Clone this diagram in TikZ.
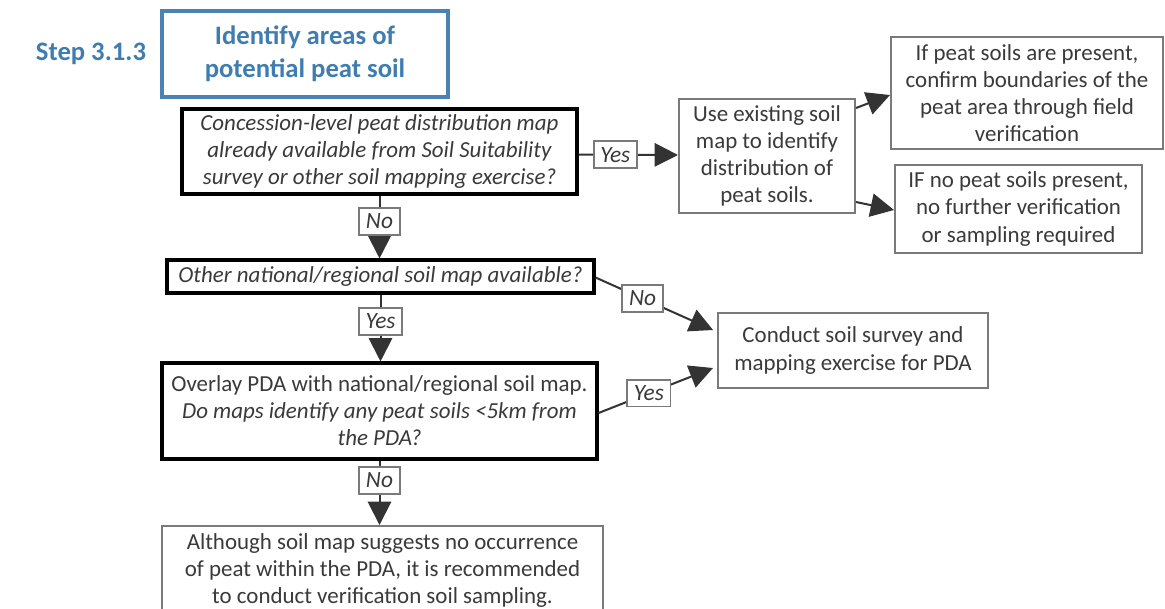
\documentclass[tikz,border=0pt]{standalone}
\usepackage{fontspec}
\setmainfont{Carlito}
\usetikzlibrary{arrows.meta,calc}
\definecolor{txt}{HTML}{3A3A3A}
\definecolor{stepblue}{HTML}{3F7DB0}
\definecolor{boxblue}{HTML}{4A82B4}
\definecolor{bordergray}{HTML}{7A7A7A}
\definecolor{linegray}{HTML}{333333}
\begin{document}
\begin{tikzpicture}[x=0.75pt,y=-0.75pt,
  every node/.style={text=txt, font=\fontsize{17.2}{20.3}\selectfont, align=center, inner sep=0pt},
  blackbox/.style={draw=black, line width=2.3pt, fill=white},
  graybox/.style={draw=bordergray, line width=1.5pt, fill=white},
  lab/.style={draw=bordergray, line width=1.4pt, fill=white, font=\fontsize{17.5}{20}\selectfont\itshape, inner xsep=5pt, minimum height=20pt},
  conn/.style={draw=linegray, line width=1.5pt, -{Triangle[length=17.5pt,width=17.5pt]}}
]
\useasboundingbox (0,0) rectangle (1165,608);

% title
\node (step) at (91,54) {\fontsize{20}{24}\selectfont\bfseries\color{stepblue}Step 3.1.3};
\node[draw=boxblue, line width=2.4pt, fill=white, minimum width=286*0.75pt, minimum height=86*0.75pt,
      font=\fontsize{20}{25}\selectfont\bfseries, text=stepblue] (title) at (305,54)
      {Identify areas of\\potential peat soil};

% main column
\node[blackbox, minimum width=395*0.75pt, minimum height=85*0.75pt, font=\fontsize{17.2}{20.3}\selectfont\itshape] (b1) at (379.5,151.5)
  {Concession-level peat distribution map\\already available from Soil Suitability\\survey or other soil mapping exercise?};
\node[blackbox, minimum width=427*0.75pt, minimum height=33*0.75pt, font=\fontsize{17.2}{20.3}\selectfont\itshape] (b2) at (380.5,276.5)
  {Other national/regional soil map available?};
\node[blackbox, minimum width=435*0.75pt, minimum height=96*0.75pt] (b3) at (379.5,411)
  {Overlay PDA with national/regional soil map.\\\textit{Do maps identify any peat soils <5km from}\\\textit{the PDA?}};
\node[graybox, minimum width=441*0.75pt, minimum height=89*0.75pt] (fin) at (382.5,570.5)
  {Although soil map suggests no occurrence\\of peat within the PDA, it is recommended\\to conduct verification soil sampling.};

% right side
\node[graybox, minimum width=176*0.75pt, minimum height=114*0.75pt] (use) at (767,156)
  {Use existing soil\\map to identify\\distribution of\\peat soils.};
\node[graybox, minimum width=272*0.75pt, minimum height=112*0.75pt] (tr) at (1027,93)
  {If peat soils are present,\\confirm boundaries of the\\peat area through field\\verification};
\node[graybox, minimum width=247*0.75pt, minimum height=88*0.75pt] (br) at (1018.5,209)
  {IF no peat soils present,\\no further verification\\or sampling required};
\node[graybox, minimum width=270*0.75pt, minimum height=75*0.75pt] (con) at (853,350.5)
  {Conduct soil survey and\\mapping exercise for PDA};

% connectors
\draw[conn] ($(b1.east)+(0,3)$) -- node[lab, pos=0.37] (l1) {Yes} ($(use.west)+(0,-1)$);
\draw[conn] ($(use.north east)+(0,10)$) -- ($(tr.west)+(0,2)$);
\draw[conn] ($(use.south east)+(0,-12)$) -- ($(br.west)+(0,1)$);
\draw[conn] (b1.south) -- node[lab, pos=0.41] (l2) {No} (b1.south |- b2.north);
\draw[conn] (b2.south) -- node[lab, pos=0.4] (l3) {Yes} (b2.south |- b3.north);
\draw[conn] (b3.south) -- node[lab, pos=0.31] (l4) {No} (b3.south |- fin.north);
\draw[conn] ($(b2.east)+(0,1)$) -- node[lab, pos=0.4] (l5) {No} ($(con.north west)+(-4,18)$);
\draw[conn] ($(b3.east)+(0,2)$) -- node[lab, pos=0.44] (l6) {Yes} ($(con.south west)+(-4,-21)$);
\end{tikzpicture}
\end{document}
